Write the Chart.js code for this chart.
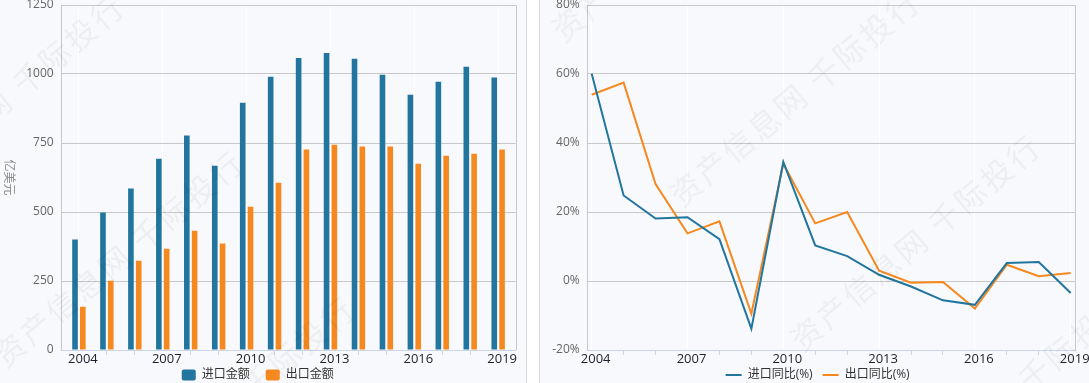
<!DOCTYPE html>
<html><head><meta charset="utf-8">
<script src="https://cdn.jsdelivr.net/npm/chart.js@4.4.1/dist/chart.umd.min.js"></script>
<style>
html,body{margin:0;padding:0;background:#f8f9fc;width:1089px;height:383px;overflow:hidden;position:relative;font-family:"Open Sans","Noto Sans CJK SC",sans-serif}
#sep{position:absolute;left:526px;top:0;width:12px;height:383px;background:#fff;border-left:1px solid #dadada;border-right:1px solid #dadada}
.box{position:absolute;top:0;height:383px;overflow:hidden}
#lbox{left:0;width:526px}
#rbox{left:540px;width:549px}
.wm{position:absolute;white-space:nowrap;font-size:31px;letter-spacing:3px;line-height:32px;color:rgba(0,0,0,0.045);transform-origin:0 50%;transform:rotate(-40deg);pointer-events:none;font-family:"Noto Sans CJK SC",sans-serif}
</style>
</head><body>
<div class="box" id="lbox"><canvas id="c1" width="526" height="383"></canvas></div>
<div id="sep"></div>
<div class="box" id="rbox"><canvas id="c2" width="549" height="383"></canvas></div>
<div class="wm" style="left:-122px;top:187px">资产信息网 千际投行</div>
<div class="wm" style="left:-3px;top:343px">资产信息网 千际投行</div>
<div class="wm" style="left:108px;top:489px">资产信息网 千际投行</div>
<div class="wm" style="left:555px;top:17px">资产信息网 千际投行</div>
<div class="wm" style="left:673px;top:182px">资产信息网 千际投行</div>
<div class="wm" style="left:794px;top:327px">资产信息网 千际投行</div>
<div class="wm" style="left:884px;top:483px">资产信息网 千际投行</div>
<script>
// ---- data ----
const years = [2004,2005,2006,2007,2008,2009,2010,2011,2012,2013,2014,2015,2016,2017,2018,2019];
const labelYears = [2004,2007,2010,2013,2016,2019];
const importAmt = [400,498,585,693,777,668,896,990,1058,1076,1055,997,925,972,1026,987];
const exportAmt = [157,251,323,367,432,386,519,606,726,744,737,737,675,704,711,726];
const importYoY = [60.1,24.8,18.1,18.5,12.1,-13.8,34.5,10.3,7.2,1.8,-1.6,-5.6,-6.9,5.2,5.5,-3.5];
const exportYoY = [54.0,57.5,28.1,13.8,17.3,-9.5,34.0,16.7,20.0,3.0,-0.5,-0.3,-8.0,4.7,1.4,2.3];
const amtTicks = [0,250,500,750,1000,1250];
const pctTicks = [-20,0,20,40,60,80];
const seriesNames = ['进口金额','出口金额','进口同比(%)','出口同比(%)'];
const unitTitle = '亿美元';

const BLUE = '#21759e', ORANGE = '#f5891f';
const FONT = '"Open Sans","Noto Sans CJK SC",sans-serif';
Chart.defaults.font.family = FONT;
const PLOT_BOTTOM = 350, LEGEND_TEXT_Y = 375;

const frame = {
  id: 'frame',
  beforeDatasetsDraw(c) {
    const {ctx, chartArea: a} = c;
    ctx.save();
    ctx.strokeStyle = '#c8c8c8'; ctx.lineWidth = 1;
    const r = Math.round(a.right) + 0.5, t = Math.round(a.top) + 0.5;
    ctx.beginPath();
    ctx.moveTo(a.left, t); ctx.lineTo(r, t);
    ctx.moveTo(r, t); ctx.lineTo(r, a.bottom);
    ctx.stroke();
    ctx.restore();
  }
};
const yTitle = {
  id: 'ytitle',
  afterDraw(c) {
    const {ctx, chartArea: a} = c;
    ctx.save();
    ctx.translate(10, (a.top + a.bottom) / 2);
    ctx.rotate(Math.PI / 2);
    ctx.fillStyle = '#8c8c8c';
    ctx.font = '12px "Noto Sans CJK SC",sans-serif';
    ctx.textAlign = 'center'; ctx.textBaseline = 'middle';
    ctx.fillText(unitTitle, 0, 0);
    ctx.restore();
  }
};
function legendMover(dx) {
  return {
    id: 'legendMover',
    afterLayout(c) {
      const lg = c.legend;
      if (!lg) return;
      const p = lg.options.labels.padding;
      lg.top = LEGEND_TEXT_Y - 6 - p;
      lg.bottom = c.height;
      lg.height = lg.bottom - lg.top;
      lg.left += dx; lg.right += dx;
    }
  };
}

function xAxis(min, max) {
  return {
    type: 'linear', min, max, offset: false,
    afterBuildTicks: s => { s.ticks = years.map(v => ({value: v})); },
    ticks: {
      autoSkip: false, maxRotation: 0, minRotation: 0, includeBounds: false,
      labelOffset: 4, padding: -4, color: '#1f1f2b', font: {size: 13},
      callback: v => labelYears.includes(v) ? String(v) : ''
    },
    grid: {
      offset: false, tickLength: 5, lineWidth: 1,
      color: c => (c.tick && labelYears.includes(c.tick.value)) ? 'rgba(255,255,255,0.95)' : 'rgba(0,0,0,0)',
      tickColor: c => (c.tick && labelYears.includes(c.tick.value)) ? 'rgba(0,0,0,0)' : '#ccd6eb'
    },
    border: {color: '#ccd6eb', width: 1},
    afterFit: s => {
      const lg = s.chart.legend;
      const lh = (lg && lg.options.maxHeight) ? lg.options.maxHeight : 10;
      s.height = Math.max(0, s.chart.height - lh - PLOT_BOTTOM);
      s.paddingLeft = 0; s.paddingRight = 0;
    }
  };
}
function yAxis(min, max, ticksArr, width, fmt) {
  return {
    min, max,
    afterBuildTicks: s => { s.ticks = ticksArr.map(v => ({value: v})); },
    ticks: {color: '#666', font: {size: 12}, padding: 8, callback: fmt},
    grid: {color: '#c8c8c8', drawTicks: false, tickLength: 0},
    border: {color: '#c8c8c8'},
    afterFit: s => { s.width = width; s.paddingTop = 0; s.paddingBottom = 0; }
  };
}

new Chart(document.getElementById('c1'), {
  type: 'bar',
  data: {
    datasets: [
      {label: seriesNames[0], data: years.map((y, i) => ({x: y, y: importAmt[i]})), backgroundColor: BLUE, borderWidth: 0},
      {label: seriesNames[1], data: years.map((y, i) => ({x: y, y: exportAmt[i]})), backgroundColor: ORANGE, borderWidth: 0}
    ]
  },
  options: {
    responsive: false, animation: false, devicePixelRatio: 1,
    categoryPercentage: 0.558, barPercentage: 0.72,
    layout: {padding: {top: 5, left: 0, right: 10.5, bottom: 0}},
    scales: {
      x: xAxis(2003.384, 2019.62),
      y: yAxis(0, 1250, amtTicks, 61.7, v => String(v))
    },
    plugins: {
      legend: {position: 'bottom', maxHeight: 10, labels: {boxWidth: 14, boxHeight: 11, useBorderRadius: true, borderRadius: 2, padding: 16, color: '#333', font: {size: 12}}},
      tooltip: {enabled: false}
    }
  },
  plugins: [frame, yTitle, legendMover(0)]
});

new Chart(document.getElementById('c2'), {
  type: 'line',
  data: {
    datasets: [
      {label: seriesNames[2], data: years.map((y, i) => ({x: y, y: importYoY[i]})), borderColor: BLUE, backgroundColor: BLUE, borderWidth: 2, pointRadius: 0, tension: 0},
      {label: seriesNames[3], data: years.map((y, i) => ({x: y, y: exportYoY[i]})), borderColor: ORANGE, backgroundColor: ORANGE, borderWidth: 2, pointRadius: 0, tension: 0}
    ]
  },
  options: {
    responsive: false, animation: false, devicePixelRatio: 1,
    layout: {padding: {top: 5, left: 0, right: 13.7, bottom: 0}},
    scales: {
      x: xAxis(2003.875, 2019.144),
      y: yAxis(-20, 80, pctTicks, 47.7, v => v + '%')
    },
    plugins: {
      legend: {position: 'bottom', maxHeight: 10, labels: {boxWidth: 16, boxHeight: 2, padding: 10, color: '#333', font: {size: 12},
        generateLabels: ch => Chart.defaults.plugins.legend.labels.generateLabels(ch).map(l => Object.assign(l, {lineWidth: 0}))}},
      tooltip: {enabled: false}
    }
  },
  plugins: [frame, legendMover(10)]
});
</script>
</body></html>
